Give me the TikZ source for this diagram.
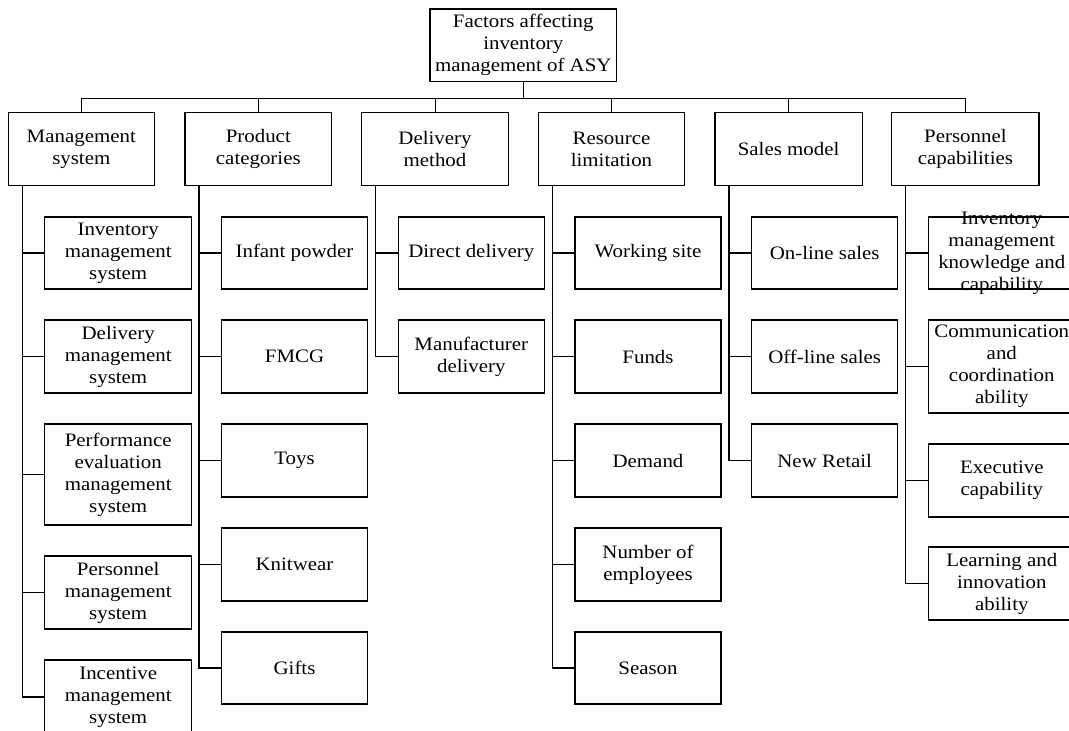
\documentclass[tikz,border=0pt]{standalone}
\usepackage{fontspec}
\setmainfont{Liberation Serif}[FakeStretch=1.1]
\tikzset{
  x=1pt, y=-1pt,
  bx/.style={draw, line width=1.2pt, inner sep=0pt, rectangle},
  txt/.style={align=center, inner sep=0pt, font=\fontsize{19}{22}\selectfont},
  bus/.style={line width=1pt},
  trunk/.style={line width=1.3pt},
}
\newcommand\mybox[6]{\node[bx, minimum width=#4, minimum height=#5] (#1) at (#2,#3) {}; \node[txt] at (#1) {#6};}
\begin{document}
\begin{tikzpicture}
\useasboundingbox (0,0) rectangle (1069,731);
\clip (0,0) rectangle (1069,731);
% root
\mybox{root}{523.3}{45.3}{186.7}{72.7}{Factors affecting\\inventory\\management of ASY}
% level 1
\mybox{m}{81.3}{149.2}{146}{73}{Management\\system}
\mybox{p}{258.3}{149.2}{146.7}{73}{Product\\categories}
\mybox{d}{435}{149.2}{146.5}{73}{Delivery\\method}
\mybox{r}{611.5}{149.2}{146.5}{73}{Resource\\limitation}
\mybox{s}{788.6}{149.2}{147.3}{73}{Sales model}
\mybox{c}{965.4}{149.2}{147.3}{73}{Personnel\\capabilities}
% column 1
\mybox{m1}{118.2}{253}{147}{72}{Inventory\\management\\system}
\mybox{m2}{118.2}{356.5}{147}{73}{Delivery\\management\\system}
\mybox{m3}{118.2}{474.5}{147}{101}{Performance\\evaluation\\management\\system}
\mybox{m4}{118.2}{592.5}{147}{73}{Personnel\\management\\system}
\mybox{m5}{118.2}{697}{147}{74}{Incentive\\management\\system}
% column 2
\mybox{p1}{294.5}{253}{145.6}{72}{Infant powder}
\mybox{p2}{294.5}{356.5}{145.6}{73}{FMCG}
\mybox{p3}{294.5}{460.5}{145.6}{73}{Toys}
\mybox{p4}{294.5}{564.5}{145.6}{73}{Knitwear}
\mybox{p5}{294.5}{668}{145.6}{72}{Gifts}
% column 3
\mybox{d1}{471.3}{253}{146}{72}{Direct delivery}
\mybox{d2}{471.3}{356.5}{146}{73}{Manufacturer\\delivery}
% column 4
\mybox{r1}{648}{253}{146}{72}{Working site}
\mybox{r2}{648}{356.5}{146}{73}{Funds}
\mybox{r3}{648}{460.5}{146}{73}{Demand}
\mybox{r4}{648}{564.5}{146}{73}{Number of\\employees}
\mybox{r5}{648}{668}{146}{72}{Season}
% column 5
\mybox{s1}{824.7}{253}{146}{72}{On-line sales}
\mybox{s2}{824.7}{356.5}{146}{73}{Off-line sales}
\mybox{s3}{824.7}{460.5}{146}{73}{New Retail}
% column 6
\mybox{c1}{1001.8}{253}{147}{72}{Inventory\\management\\knowledge and\\capability}
\mybox{c2}{1001.8}{366.5}{147}{93}{Communication\\and\\coordination\\ability}
\mybox{c3}{1001.8}{480.5}{147}{73}{Executive\\capability}
\mybox{c4}{1001.8}{583.5}{147}{73}{Learning and\\innovation\\ability}
% bus
\draw[trunk] (root.south) -- ++(0,15.8);
\foreach \n in {m,p,d,r,s,c} {
  \draw[bus] (root.south) ++(0,15.8) -| (\n.north);
}
% trunks
\foreach \n/\k in {m/5,p/5,d/2,r/5,s/3,c/4} {
  \foreach \i in {1,...,\k} {
    \draw[trunk] (\n.south west) ++(14.5,0) |- (\n\i.west);
  }
}
\end{tikzpicture}
\end{document}
